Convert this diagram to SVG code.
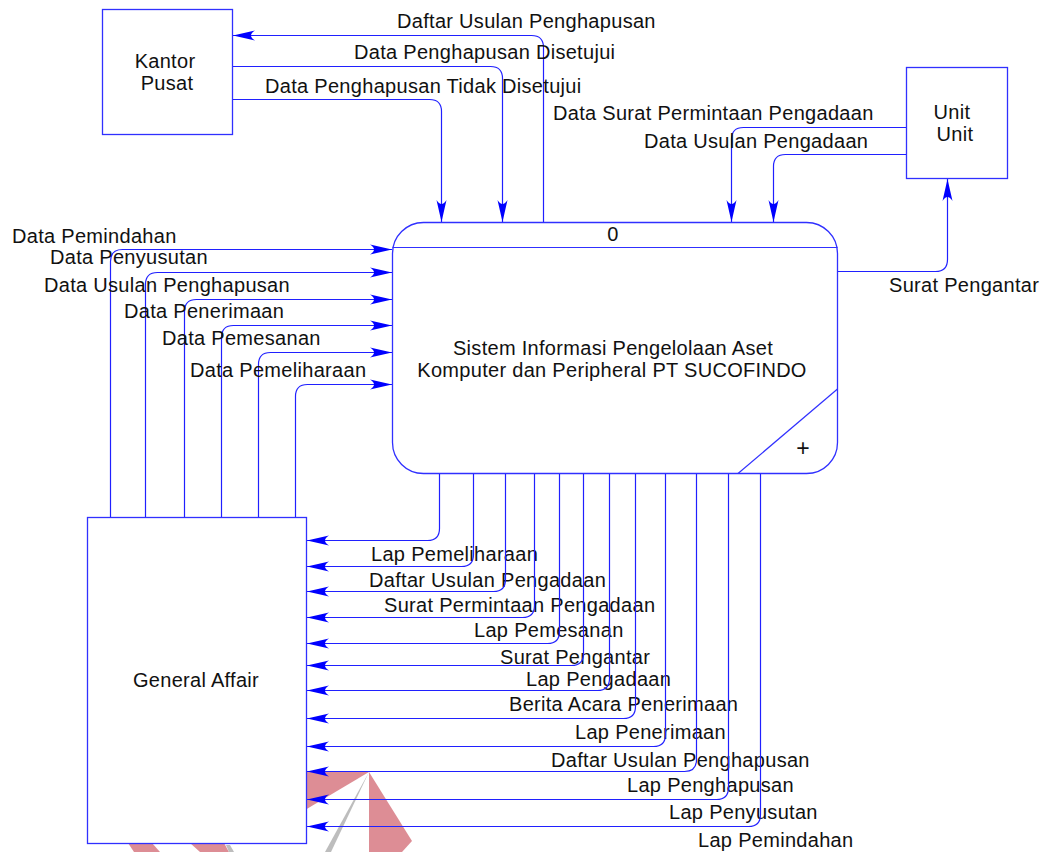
<svg xmlns="http://www.w3.org/2000/svg" width="1044" height="852" viewBox="0 0 1044 852">
  <style>
    text { font-family: "Liberation Sans", Arial, sans-serif; font-size: 20px; letter-spacing: 0.3px; fill: #111; }
    .mid { text-anchor: middle; }
    .box { fill: #fff; stroke: #3030ff; stroke-width: 1.3; }
    .flow { fill: none; stroke: #2020ff; stroke-width: 1.2; marker-end: url(#arrow); }
    .wm-red { fill: #dd8d95; }
    .wm-gray { fill: #bdbdbd; }
  </style>
  <defs>
    <marker id="arrow" markerUnits="userSpaceOnUse" orient="auto" viewBox="-23 -6 24 12" refX="0" refY="0" markerWidth="24" markerHeight="12">
      <path d="M0,0 L-22,-5 Q-14,0 -22,5 Z" fill="#0000ff"/>
    </marker>
  </defs>

  <rect width="1044" height="852" fill="#fff"/>

  <!-- logo mark in the background, lower left -->
  <g id="backdrop">
    <polygon class="wm-red" points="300,772 369,772 300,813"/>
    <polygon class="wm-red" points="369,772 412,841 402,852 369,852"/>
    <polygon class="wm-gray" points="369,772 331,852 325,852"/>
    <polygon class="wm-red" points="128,843 152,843 160,852 134,852"/>
    <polygon class="wm-red" points="190,843 224,843 229,852 200,852"/>
    <polygon class="wm-gray" points="226,845 230,845 234,852 229,852"/>
  </g>

  <!-- external entities and the process -->
  <g id="kantor-pusat">
    <rect class="box" x="102.5" y="9.5" width="130" height="125"/>
    <text class="mid" x="165" y="68">Kantor</text>
    <text class="mid" x="167" y="90">Pusat</text>
  </g>

  <g id="unit">
    <rect class="box" x="906.5" y="67.5" width="101" height="111"/>
    <text class="mid" x="952" y="119">Unit</text>
    <text class="mid" x="955" y="141">Unit</text>
  </g>

  <g id="general-affair">
    <rect class="box" x="87.5" y="517.5" width="219" height="326"/>
    <text class="mid" x="196" y="687">General Affair</text>
  </g>

  <g id="process-0">
    <rect class="box" x="392.5" y="222.5" width="445" height="251" rx="31" ry="31"/>
    <line x1="392.5" y1="247.5" x2="837.5" y2="247.5" stroke="#3030ff" stroke-width="1.2"/>
    <line x1="837.5" y1="389" x2="738" y2="473.5" stroke="#3030ff" stroke-width="1.2"/>
    <text class="mid" x="613" y="241">0</text>
    <text class="mid" x="613" y="355">Sistem Informasi Pengelolaan Aset</text>
    <text class="mid" x="612" y="377">Komputer dan Peripheral PT SUCOFINDO</text>
    <text class="mid" x="803" y="456" style="font-size:23px;font-weight:300">+</text>
  </g>

  <!-- data flows -->
  <g id="connectors">
    <!-- process <-> Kantor Pusat -->
    <path class="flow" d="M543.5,222 V47.5 Q543.5,35.5 531.5,35.5 H233"/>
    <text x="397" y="28">Daftar Usulan Penghapusan</text>
    <path class="flow" d="M233,66.5 H490.5 Q502.5,66.5 502.5,78.5 V222"/>
    <text x="354" y="59">Data Penghapusan Disetujui</text>
    <path class="flow" d="M233,99.5 H429.5 Q441.5,99.5 441.5,111.5 V222"/>
    <text x="265" y="93">Data Penghapusan Tidak Disetujui</text>

    <!-- process <-> Unit -->
    <path class="flow" d="M906,127.5 H743.5 Q731.5,127.5 731.5,139.5 V222"/>
    <text x="553" y="120">Data Surat Permintaan Pengadaan</text>
    <path class="flow" d="M906,154.5 H785.5 Q773.5,154.5 773.5,166.5 V222"/>
    <text x="644" y="148">Data Usulan Pengadaan</text>
    <path class="flow" d="M838,271.5 H935.5 Q947.5,271.5 947.5,259.5 V179"/>
    <text x="889" y="292">Surat Pengantar</text>

    <!-- General Affair -> process -->
    <path class="flow" d="M110.5,517 V261.5 Q110.5,249.5 122.5,249.5 H392"/>
    <text x="12" y="243">Data Pemindahan</text>
    <path class="flow" d="M145.5,517 V284.5 Q145.5,272.5 157.5,272.5 H392"/>
    <text x="50" y="264">Data Penyusutan</text>
    <path class="flow" d="M184.5,517 V311.5 Q184.5,299.5 196.5,299.5 H392"/>
    <text x="44" y="292">Data Usulan Penghapusan</text>
    <path class="flow" d="M221.5,517 V337.5 Q221.5,325.5 233.5,325.5 H392"/>
    <text x="124" y="318">Data Penerimaan</text>
    <path class="flow" d="M258.5,517 V364.5 Q258.5,352.5 270.5,352.5 H392"/>
    <text x="162" y="345">Data Pemesanan</text>
    <path class="flow" d="M295.5,517 V396.5 Q295.5,384.5 307.5,384.5 H392"/>
    <text x="190" y="377">Data Pemeliharaan</text>

    <!-- process -> General Affair -->
    <path class="flow" d="M439.5,474 V528.5 Q439.5,540.5 427.5,540.5 H307"/>
    <text x="371" y="561">Lap Pemeliharaan</text>
    <path class="flow" d="M473.5,474 V554.5 Q473.5,566.5 461.5,566.5 H307"/>
    <text x="369" y="587">Daftar Usulan Pengadaan</text>
    <path class="flow" d="M505.5,474 V579.5 Q505.5,591.5 493.5,591.5 H307"/>
    <text x="384" y="612">Surat Permintaan Pengadaan</text>
    <path class="flow" d="M534.5,474 V605.5 Q534.5,617.5 522.5,617.5 H307"/>
    <text x="474" y="637">Lap Pemesanan</text>
    <path class="flow" d="M559.5,474 V631.5 Q559.5,643.5 547.5,643.5 H307"/>
    <text x="500" y="664">Surat Pengantar</text>
    <path class="flow" d="M583.5,474 V653.5 Q583.5,665.5 571.5,665.5 H307"/>
    <text x="526" y="686">Lap Pengadaan</text>
    <path class="flow" d="M609.5,474 V678.5 Q609.5,690.5 597.5,690.5 H307"/>
    <text x="509" y="711">Berita Acara Penerimaan</text>
    <path class="flow" d="M635.5,474 V706.5 Q635.5,718.5 623.5,718.5 H307"/>
    <text x="575" y="739">Lap Penerimaan</text>
    <path class="flow" d="M665.5,474 V734.5 Q665.5,746.5 653.5,746.5 H307"/>
    <text x="551" y="767">Daftar Usulan Penghapusan</text>
    <path class="flow" d="M696.5,474 V759.5 Q696.5,771.5 684.5,771.5 H307"/>
    <text x="627" y="792">Lap Penghapusan</text>
    <path class="flow" d="M728.5,474 V787.5 Q728.5,799.5 716.5,799.5 H307"/>
    <text x="669" y="819">Lap Penyusutan</text>
    <path class="flow" d="M760.5,474 V814.5 Q760.5,826.5 748.5,826.5 H307"/>
    <text x="698" y="847">Lap Pemindahan</text>
  </g>
</svg>
